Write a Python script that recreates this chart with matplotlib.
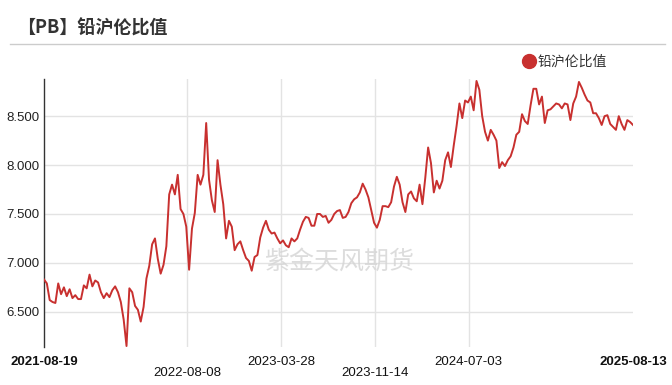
import pandas as pd
import matplotlib
matplotlib.use("Agg")
from matplotlib import pyplot as plt
from matplotlib.lines import Line2D

plt.rcParams["font.family"] = ["Liberation Sans", "Noto Sans CJK SC", "DejaVu Sans"]
CJK = ["Noto Sans CJK SC", "DejaVu Sans"]

title = "【PB】铅沪伦比值"
series_name = "铅沪伦比值"
watermark = "紫金天风期货"

start_date = "2021-08-19"
end_date = "2025-08-13"

# weekly readings of the ratio
values = [
    6.83, 6.79, 6.62, 6.60, 6.59, 6.79, 6.68, 6.75, 6.66, 6.73,
    6.64, 6.67, 6.63, 6.63, 6.77, 6.74, 6.88, 6.76, 6.82, 6.80,
    6.70, 6.64, 6.69, 6.65, 6.72, 6.76, 6.70, 6.60, 6.42, 6.15,
    6.74, 6.70, 6.56, 6.52, 6.40, 6.55, 6.84, 6.97, 7.19, 7.25,
    7.04, 6.89, 6.98, 7.17, 7.70, 7.80, 7.70, 7.90, 7.55, 7.50,
    7.37, 6.93, 7.35, 7.51, 7.90, 7.80, 7.90, 8.43, 7.85, 7.64,
    7.52, 8.05, 7.80, 7.60, 7.25, 7.43, 7.37, 7.13, 7.19, 7.22,
    7.13, 7.05, 7.02, 6.92, 7.06, 7.08, 7.26, 7.36, 7.43, 7.34,
    7.30, 7.31, 7.25, 7.20, 7.23, 7.18, 7.16, 7.25, 7.22, 7.25,
    7.34, 7.42, 7.47, 7.46, 7.38, 7.38, 7.50, 7.50, 7.47, 7.48,
    7.41, 7.44, 7.50, 7.53, 7.54, 7.46, 7.47, 7.52, 7.61, 7.65,
    7.67, 7.72, 7.81, 7.75, 7.67, 7.54, 7.41, 7.36, 7.44, 7.58,
    7.58, 7.57, 7.62, 7.78, 7.88, 7.80, 7.62, 7.52, 7.70, 7.73,
    7.66, 7.63, 7.80, 7.60, 7.87, 8.18, 8.02, 7.72, 7.84, 7.76,
    7.84, 8.05, 8.13, 7.98, 8.20, 8.40, 8.63, 8.48, 8.66, 8.64,
    8.70, 8.56, 8.86, 8.77, 8.50, 8.34, 8.25, 8.36, 8.31, 8.25,
    7.97, 8.03, 7.99, 8.05, 8.09, 8.18, 8.31, 8.34, 8.52, 8.45,
    8.42, 8.61, 8.78, 8.78, 8.62, 8.70, 8.43, 8.56, 8.57, 8.60,
    8.63, 8.62, 8.58, 8.63, 8.62, 8.46, 8.63, 8.70, 8.85, 8.79,
    8.72, 8.66, 8.64, 8.53, 8.53, 8.48, 8.41, 8.50, 8.51, 8.42,
    8.39, 8.36, 8.50, 8.42, 8.36, 8.46, 8.44, 8.41,
]
dates = pd.date_range(start_date, end_date, periods=len(values))

tick_dates = ["2021-08-19", "2022-08-08", "2023-03-28", "2023-11-14", "2024-07-03", "2025-08-13"]
tick_rows = [0, 1, 0, 1, 0, 0]
tick_bold = [True, False, False, False, False, True]
y_ticks = [6.5, 7.0, 7.5, 8.0, 8.5]

red = "#c8302f"
grid_c = "#e3e3e3"
text_c = "#333333"

fig = plt.figure(figsize=(6.72, 3.85), dpi=100)
ax = fig.add_axes([44 / 672, 1 - 347 / 385, 589 / 672, 268 / 385])

ax.plot(dates, values, color=red, linewidth=1.4, zorder=3)

ax.set_xlim(pd.Timestamp(start_date), pd.Timestamp(end_date))
ax.set_ylim(6.14, 8.88)
ax.set_yticks(y_ticks)
ax.set_yticklabels([f"{v:.3f}" for v in y_ticks], fontsize=9.5, color="#222222")
ax.tick_params(axis="y", length=0, pad=3)
ax.grid(axis="y", color=grid_c, linewidth=1)

tick_ts = pd.to_datetime(tick_dates)
ax.set_xticks(tick_ts)
ax.set_xticklabels([])
ax.tick_params(axis="x", length=0)
for t in tick_ts[1:-1]:
    ax.axvline(t, color=grid_c, linewidth=1, zorder=1)

row_y = [-0.056, -0.097]
for t, lab, r, b in zip(tick_ts, tick_dates, tick_rows, tick_bold):
    ax.text(t, row_y[r], lab, transform=ax.get_xaxis_transform(), ha="center", va="center",
            fontsize=9.5, color="#111111", fontweight="bold" if b else "normal")

for s in ["top", "right", "bottom"]:
    ax.spines[s].set_visible(False)
ax.spines["left"].set_color(text_c)
ax.spines["left"].set_linewidth(1)

ax.text(0.503, 0.317, watermark, transform=ax.transAxes, ha="center", va="center",
        fontsize=18, color="#d4d4d4", family=CJK, alpha=0.8, zorder=2)

fig.text(17 / 672, 1 - 28 / 385, title, ha="left", va="center", fontsize=13,
         fontweight="bold", color=text_c, family=CJK)
fig.add_artist(Line2D([10 / 672, 665 / 672], [1 - 43.5 / 385] * 2, color="#cccccc", linewidth=1))

handle = Line2D([], [], marker="o", color=red, linestyle="none", markersize=10)
leg = fig.legend([handle], [series_name], loc="center left", bbox_to_anchor=(515 / 672, 1 - 62 / 385),
                 frameon=False, handletextpad=0.0, handlelength=1.2, borderaxespad=0,
                 prop={"family": CJK, "size": 10})
for t in leg.get_texts():
    t.set_color(text_c)

fig.savefig("out.png", dpi=100)
